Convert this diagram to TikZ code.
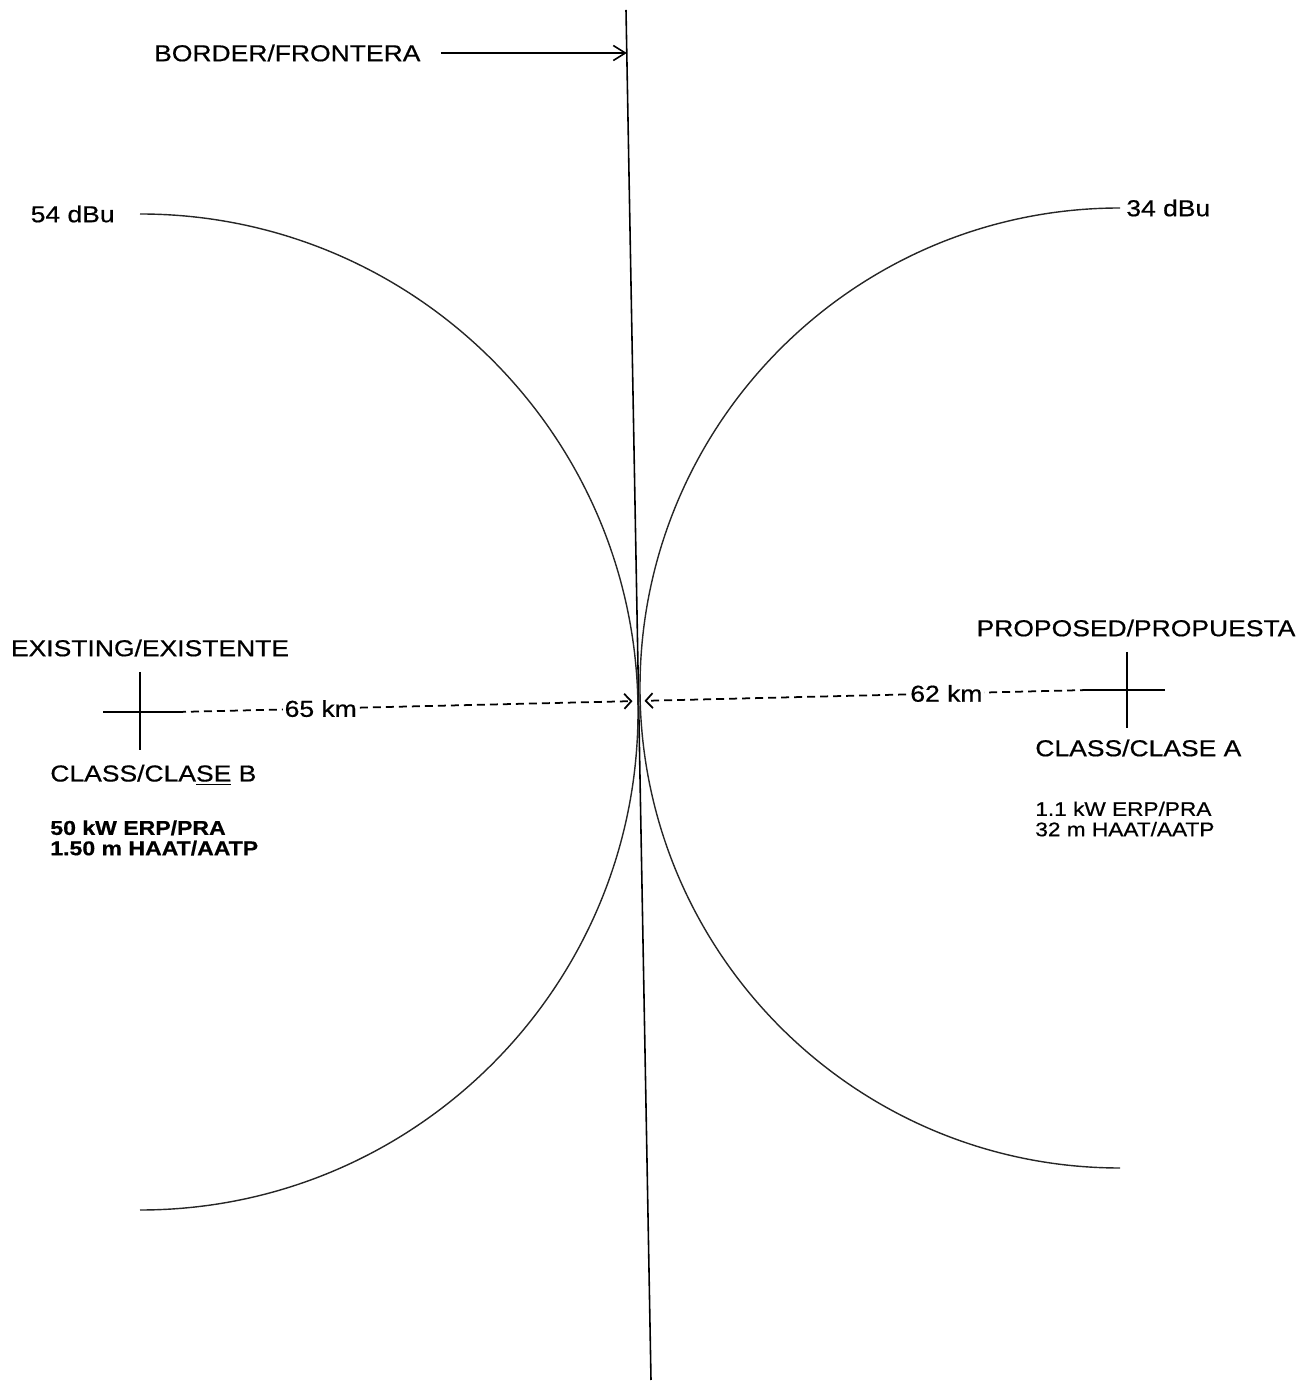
\documentclass[tikz,border=0pt]{standalone}
\usepackage{fontspec}
\setmainfont[FakeStretch=1.15, FakeBold=0.6]{Liberation Sans}
\usetikzlibrary{arrows.meta, positioning, calc}
\tikzset{
  texte/.style={font=\fontsize{13.1}{14}\selectfont, inner sep=0pt, align=center},
  textefin/.style={font=\fontsize{11.2}{11.6}\selectfont, inner sep=0pt, align=left},
  textegras/.style={textefin, font=\fontsize{11.4}{11.6}\selectfont\bfseries},
  frontiere/.style={line width=0.9pt},
  courbe/.style={line width=0.8pt, color=black!85},
  croix/.style={line width=1.2pt},
  fleche/.style={-{Straight Barb[length=2.4mm, width=3mm]}, line width=0.9pt},
  pointille/.style={dash pattern=on 1.6mm off 1mm, line width=1pt,
    -{Straight Barb[length=1.4mm, width=3mm]}, shorten >=1.2mm}
}
\begin{document}
\begin{tikzpicture}
    \useasboundingbox (0,0) rectangle (26.02,27.76);
    \coordinate (hautF) at (12.52,27.56);
    \coordinate (basF) at (13.02,0.16);
    \coordinate (ptF) at ($(hautF)!0.0314!(basF)$);
    \coordinate (centre) at (12.77,13.74);
    \coordinate (exist) at (2.80,13.52);
    \coordinate (prop) at (22.54,13.96);
    \coordinate (g54) at (2.80,23.48);
    \coordinate (d34) at (22.40,23.60);

    \draw[frontiere] (hautF) -- (basF);
    \draw[courbe] (g54) arc[start angle=90, end angle=-90, radius=9.96];
    \draw[courbe] (d34) arc[start angle=90, end angle=270, radius=9.60];

    \draw[croix] ($(exist)+(-0.74,0)$) -- ($(exist)+(0.76,0)$) coordinate (existD)
      ($(exist)+(0,0.80)$) -- ($(exist)+(0,-0.76)$);
    \draw[croix] ($(prop)+(0.76,0)$) -- ($(prop)+(-0.78,0)$) coordinate (propG)
      ($(prop)+(0,0.76)$) -- ($(prop)+(0,-0.76)$);

    \draw[pointille] (existD) -- node[texte, fill=white, inner xsep=1pt, pos=0.31] (d65) {65 km} (centre);
    \draw[pointille] (propG) -- node[texte, fill=white, inner xsep=1pt, pos=0.315] (d62) {62 km} (centre);

    \node[texte, left=5mm of g54] (l54) {54 dBu};
    \node[texte, right=1.2mm of d34] (l34) {34 dBu};
    \node[texte, left=41.2mm of ptF] (lfr) {BORDER/FRONTERA};
    \draw[fleche, shorten <=4mm] (lfr) -- (ptF);

    \node[texte] (lexist) at (3.00,14.80) {EXISTING/EXISTENTE};
    \node[texte, anchor=west] (lclasseB) at (1.00,12.26) {CLASS/CLA\underline{SE} B};
    \node[textegras, anchor=west] (lpuisB) at (1.00,11.00) {50 kW ERP/PRA\\1.50 m HAAT/AATP};
    \node[texte] (lprop) at (22.72,15.20) {PROPOSED/PROPUESTA};
    \node[texte, anchor=west] (lclasseA) at (20.70,12.80) {CLASS/CLASE A};
    \node[textefin, anchor=west] (lpuisA) at (20.70,11.38) {1.1 kW ERP/PRA\\32 m HAAT/AATP};
\end{tikzpicture}
\end{document}
